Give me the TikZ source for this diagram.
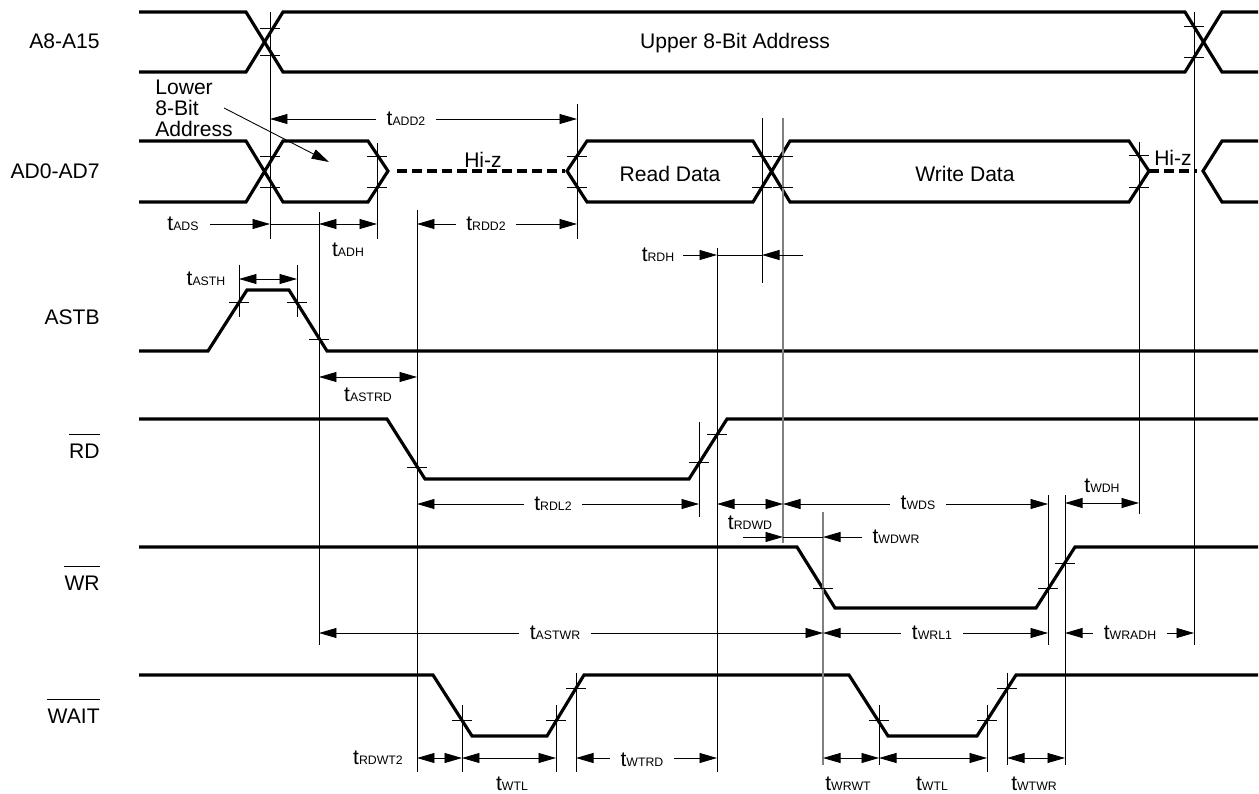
\documentclass[tikz,border=0pt]{standalone}
\usepackage{fontspec}
\setmainfont{Liberation Sans}
\usetikzlibrary{arrows.meta}

\newcommand{\tlab}[1]{t{\fontsize{7}{8}\selectfont #1}}

\tikzset{
  sig/.style={line width=1.8pt, line join=miter},
  hiz/.style={sig, dash pattern=on 2mm off 1mm},
  guide/.style={line width=0.5pt},
  greyguide/.style={line width=0.8pt, gray},
  tickline/.style={line width=0.5pt},
  dimline/.style={line width=0.5pt, {Triangle[length=3.5mm,width=2mm]}-{Triangle[length=3.5mm,width=2mm]}},
  oneway/.style={line width=0.5pt, -{Triangle[length=3.5mm,width=2mm]}},
  gaplbl/.style={fill=white, inner xsep=6pt, inner ysep=1pt},
  signame/.style={anchor=east, inner xsep=0pt, inner ysep=1.7mm}
}

\begin{document}
\begin{tikzpicture}[x=0.02cm, y=-0.02cm, font=\fontsize{12}{14}\selectfont]
  \useasboundingbox (0,0) rectangle (1259,794);

  % signal names
  \node[signame] (a8)   at (100,41)  {A8-A15};
  \node[signame] (ad0)  at (100,171) {AD0-AD7};
  \node[signame] (astb) at (100,317) {ASTB};
  \node[signame] (rd)   at (100,451) {RD};
  \node[signame] (wr)   at (100,583) {WR};
  \node[signame] (wait) at (100,716) {WAIT};
  \foreach \n in {rd, wr, wait}
    \draw[guide] (\n.north west) -- (\n.north east);

  % A8-A15
  \draw[sig] (139,12) -- (246,12) -- (283,72) -- (1185,72) -- (1222,12) -- (1258,12);
  \draw[sig] (139,72) -- (246,72) -- (283,12) -- (1185,12) -- (1222,72) -- (1258,72);
  \node (upper) at (735,43) {Upper 8-Bit Address};

  % AD0-AD7
  \draw[sig] (139,141) -- (246,141) -- (283,202) -- (368,202) -- (388,171)
    -- (368,141) -- (283,141) -- (246,202) -- (139,202);
  \draw[hiz] (397,171) -- (565,171);
  \draw[sig] (567,171) -- (587,141) -- (753,141) -- (790,202) -- (1129,202) -- (1149,171)
    -- (1129,141) -- (790,141) -- (753,202) -- (587,202) -- cycle;
  \draw[hiz] (1149,171) -- (1197,171);
  \draw[sig] (1258,141) -- (1222,141) -- (1203,171) -- (1222,202) -- (1258,202);
  \node (hiz1) at (483,160) {Hi-z};
  \node (hiz2) at (1173,158) {Hi-z};
  \node (rdata) at (670,174) {Read Data};
  \node (wdata) at (965,174) {Write Data};
  \node[align=left, anchor=west, inner sep=0pt, font=\fontsize{12}{12}\selectfont] (lower) at (155,108) {Lower\\8-Bit\\Address};
  \draw[oneway] ([xshift=-1.8mm]lower.east) -- (329,162);

  % ASTB, RD, WR, WAIT
  \draw[sig] (139,351) -- (208,351) -- (247,290) -- (289,290) -- (327,351) -- (1258,351);
  \draw[sig] (139,419) -- (387,419) -- (425,479) -- (689,479) -- (727,419) -- (1258,419);
  \draw[sig] (139,547) -- (797,547) -- (835,608) -- (1036,608) -- (1075,547) -- (1258,547);
  \draw[sig] (139,675) -- (433,675) -- (472,736) -- (547,736) -- (584,675) -- (849,675)
    -- (888,736) -- (977,736) -- (1016,675) -- (1258,675);

  % timing guides
  \foreach \x/\a/\b in {270/12/239, 319/212/645, 377/143/239, 417/210/772, 577/104/239,
      762/118/283, 717/248/772, 699/422/517, 1048/495/645, 1065/495/765, 1139/142/514,
      1194/12/645, 239/265/317, 297/265/317, 462/705/772, 556/705/772, 576/673/772,
      879/705/765, 987/705/772, 1007/673/765}
    \draw[guide] (\x,\a) -- (\x,\b);
  \draw[greyguide] (783,118) -- (783,543);
  \draw[greyguide] (823,512) -- (823,765);

  % level marks
  \foreach \x/\y in {270/28, 270/55, 1194/26, 1194/57, 270/156, 270/187, 377/156, 377/187,
      577/156, 577/187, 762/156, 762/187, 783/156, 783/187, 1139/155, 1139/187,
      239/302, 297/302, 319/339, 417/467, 699/462, 717/434, 823/588, 1048/588, 1065/563,
      462/720, 556/720, 576/688, 879/720, 987/720, 1007/688}
    \draw[tickline] (\x-10,\y) -- (\x+10,\y);

  % dimension arrows
  \foreach \y/\a/\b in {119/270/577, 224/319/377, 224/417/577, 279/239/297, 377/319/417,
      504/417/699, 504/717/783, 504/783/1048, 503/1065/1139, 633/319/823, 633/823/1048,
      633/1065/1194, 758/417/462, 758/462/556, 758/576/717, 758/823/879, 758/879/987,
      758/1007/1065}
    \draw[dimline] (\a,\y) -- (\b,\y);
  \draw[oneway] (210,224) -- (270,224);
  \draw[guide] (270,224) -- (319,224);
  \draw[oneway] (683,255) -- (717,255);
  \draw[guide] (717,255) -- (762,255);
  \draw[oneway] (803,255) -- (762,255);
  \draw[oneway] (743,537) -- (783,537);
  \draw[guide] (783,537) -- (823,537);
  \draw[oneway] (862,537) -- (823,537);

  % timing labels
  \node[gaplbl] (tadd)   at (406,119) {\tlab{ADD2}};
  \node[gaplbl] (trdd)   at (486,224) {\tlab{RDD2}};
  \node[gaplbl] (trdl)   at (553,504) {\tlab{RDL2}};
  \node[gaplbl] (twds)   at (918,503) {\tlab{WDS}};
  \node[gaplbl] (tastwr) at (555,633) {\tlab{ASTWR}};
  \node[gaplbl] (twrl)   at (932,633) {\tlab{WRL1}};
  \node[gaplbl] (twradh) at (1130,633) {\tlab{WRADH}};
  \node[gaplbl] (twtrd)  at (642,760) {\tlab{WTRD}};
  \node (tads)   at (183,224) {\tlab{ADS}};
  \node (tadh)   at (348,250) {\tlab{ADH}};
  \node (tasth)  at (206,279) {\tlab{ASTH}};
  \node (tastrd) at (368,395) {\tlab{ASTRD}};
  \node (trdh)   at (658,255) {\tlab{RDH}};
  \node (trdwd)  at (750,523) {\tlab{RDWD}};
  \node (twdh)   at (1102,486) {\tlab{WDH}};
  \node (twdwr)  at (896,537) {\tlab{WDWR}};
  \node (trdwt)  at (378,758) {\tlab{RDWT2}};
  \node (twtl)   at (512,784) {\tlab{WTL}};
  \node (twrwt)  at (848,784) {\tlab{WRWT}};
  \node (twtl2)  at (932,784) {\tlab{WTL}};
  \node (twtwr)  at (1034,784) {\tlab{WTWR}};
\end{tikzpicture}
\end{document}
